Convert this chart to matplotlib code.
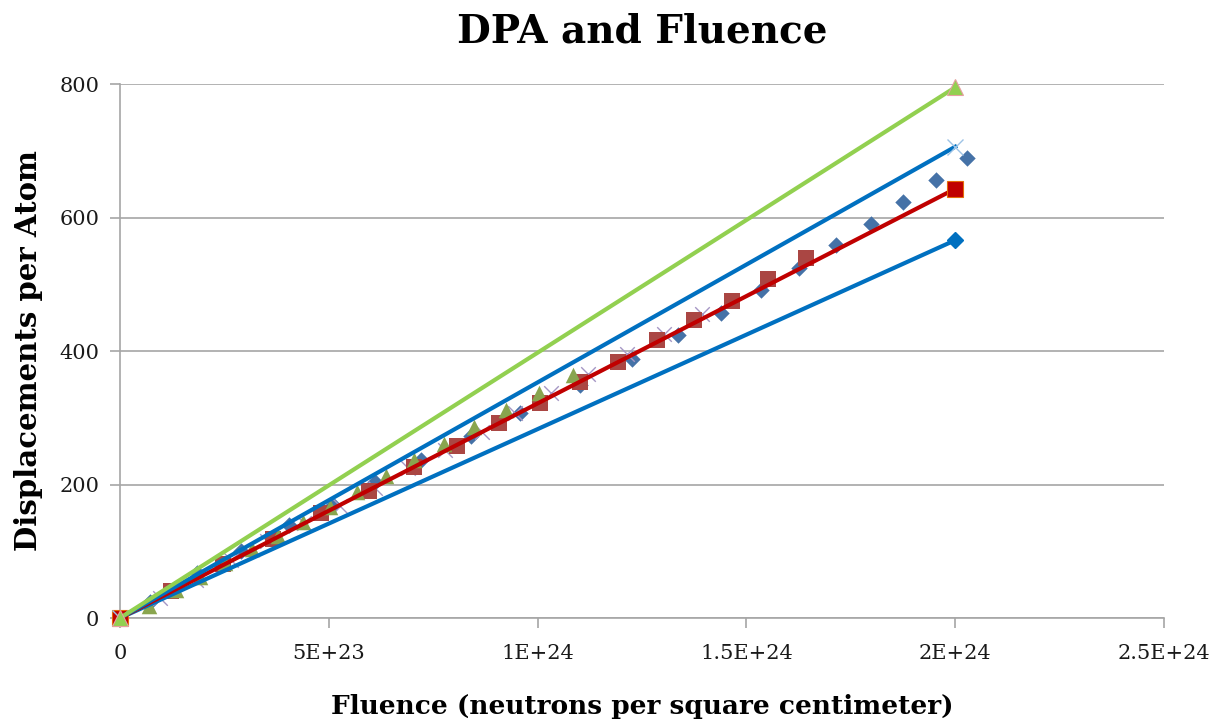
import numpy as np
import matplotlib
matplotlib.use("Agg")
import matplotlib.pyplot as plt
from matplotlib.ticker import FixedLocator

# scatter series (fluence in units of 1E24, dpa)
diamond_x = [0, 0.072, 0.184, 0.29, 0.405, 0.51, 0.611, 0.72, 0.84, 0.958, 1.102,
             1.226, 1.337, 1.440, 1.535, 1.626, 1.715, 1.799, 1.875, 1.954, 2.029]
diamond_y = [0, 24, 67, 100, 139, 170, 204, 236, 272, 307, 349,
             388, 424, 457, 491, 524, 559, 590, 623, 656, 689]

square_x = [0, 0.122, 0.247, 0.366, 0.481, 0.596, 0.704, 0.807, 0.908, 1.006,
            1.102, 1.193, 1.286, 1.375, 1.466, 1.552, 1.643]
square_y = [0, 40, 81, 118, 157, 190, 226, 258, 292, 322,
            354, 384, 416, 446, 475, 508, 539]

tri_x = [0, 0.069, 0.134, 0.192, 0.251, 0.316, 0.378, 0.438, 0.503, 0.568,
         0.637, 0.704, 0.776, 0.848, 0.925, 1.004, 1.085]
tri_y = [0, 18, 42, 61, 82, 103, 123, 144, 166, 189,
         213, 237, 261, 286, 312, 337, 364]

cross_x = [0, 0.096, 0.182, 0.266, 0.352, 0.441, 0.527, 0.611, 0.690, 0.778,
           0.867, 0.946, 1.032, 1.121, 1.214, 1.303, 1.394]
cross_y = [0, 30, 57, 87, 115, 142, 168, 195, 225, 252,
           279, 307, 337, 366, 396, 425, 455]

# straight reference lines: end points
line_x = [0, 2.0]
green_line = [0, 795]
blue_upper = [0, 706]
red_line = [0, 643]
blue_lower = [0, 566]

xticks = [0, 0.5, 1.0, 1.5, 2.0, 2.5]
xtick_labels = ["0", "5E+23", "1E+24", "1.5E+24", "2E+24", "2.5E+24"]
yticks = [0, 200, 400, 600, 800]

plt.rcParams['font.family'] = ['DejaVu Serif']

fig = plt.figure(figsize=(12.2, 7.23), dpi=100)
ax = fig.add_axes([0.0984, 0.1452, 0.8557, 0.7386])

ax.scatter(diamond_x, diamond_y, marker="D", s=70, color="#4572A7", zorder=3, linewidths=0)
ax.scatter(cross_x, cross_y, marker="x", s=110, color="#A596C4", zorder=3, linewidths=1)
ax.scatter(square_x, square_y, marker="s", s=140, color="#AA4643", zorder=3, linewidths=0)
ax.scatter(tri_x, tri_y, marker="^", s=125, color="#89A54E", zorder=3, linewidths=0)

ax.plot(line_x, blue_lower, color="#0070C0", lw=3, marker="D", ms=8, zorder=4,
        clip_on=False)
ax.plot(line_x, red_line, color="#C00000", lw=3, marker="s", ms=11,
        mec="#E46C0A", mew=0.8, zorder=4, clip_on=False)
ax.plot(line_x, blue_upper, color="#0070C0", lw=3, marker="x", ms=11,
        mec="#9DC3E6", mew=1, zorder=4, clip_on=False)
ax.plot(line_x, green_line, color="#92D050", lw=3, marker="^", ms=11,
        mfc="#92D050", mec="#E6A0A0", mew=0.8, zorder=4, clip_on=False)

ax.set_xlim(0, 2.5)
ax.set_ylim(0, 800)
ax.xaxis.set_major_locator(FixedLocator(xticks))
ax.set_xticklabels(xtick_labels)
ax.set_yticks(yticks)
ax.yaxis.grid(True, color="#A6A6A6", lw=1.2)
ax.set_axisbelow(True)
for side in ["top", "right"]:
    ax.spines[side].set_visible(False)
for side in ["left", "bottom"]:
    ax.spines[side].set_color("#A6A6A6")
    ax.spines[side].set_linewidth(1.2)
ax.tick_params(axis="both", colors="#A6A6A6", length=7, width=1.2, labelsize=15,
               labelcolor="#1a1a1a")
ax.tick_params(axis="x", pad=12)
ax.tick_params(axis="y", pad=8)

ax.set_title("DPA and Fluence", fontsize=28, fontweight="bold", pad=30)
ax.set_xlabel("Fluence (neutrons per square centimeter)", fontsize=19,
              fontweight="bold", labelpad=22)
ax.set_ylabel("Displacements per Atom", fontsize=21, fontweight="bold", labelpad=12)

fig.savefig("out.png", dpi=100)
